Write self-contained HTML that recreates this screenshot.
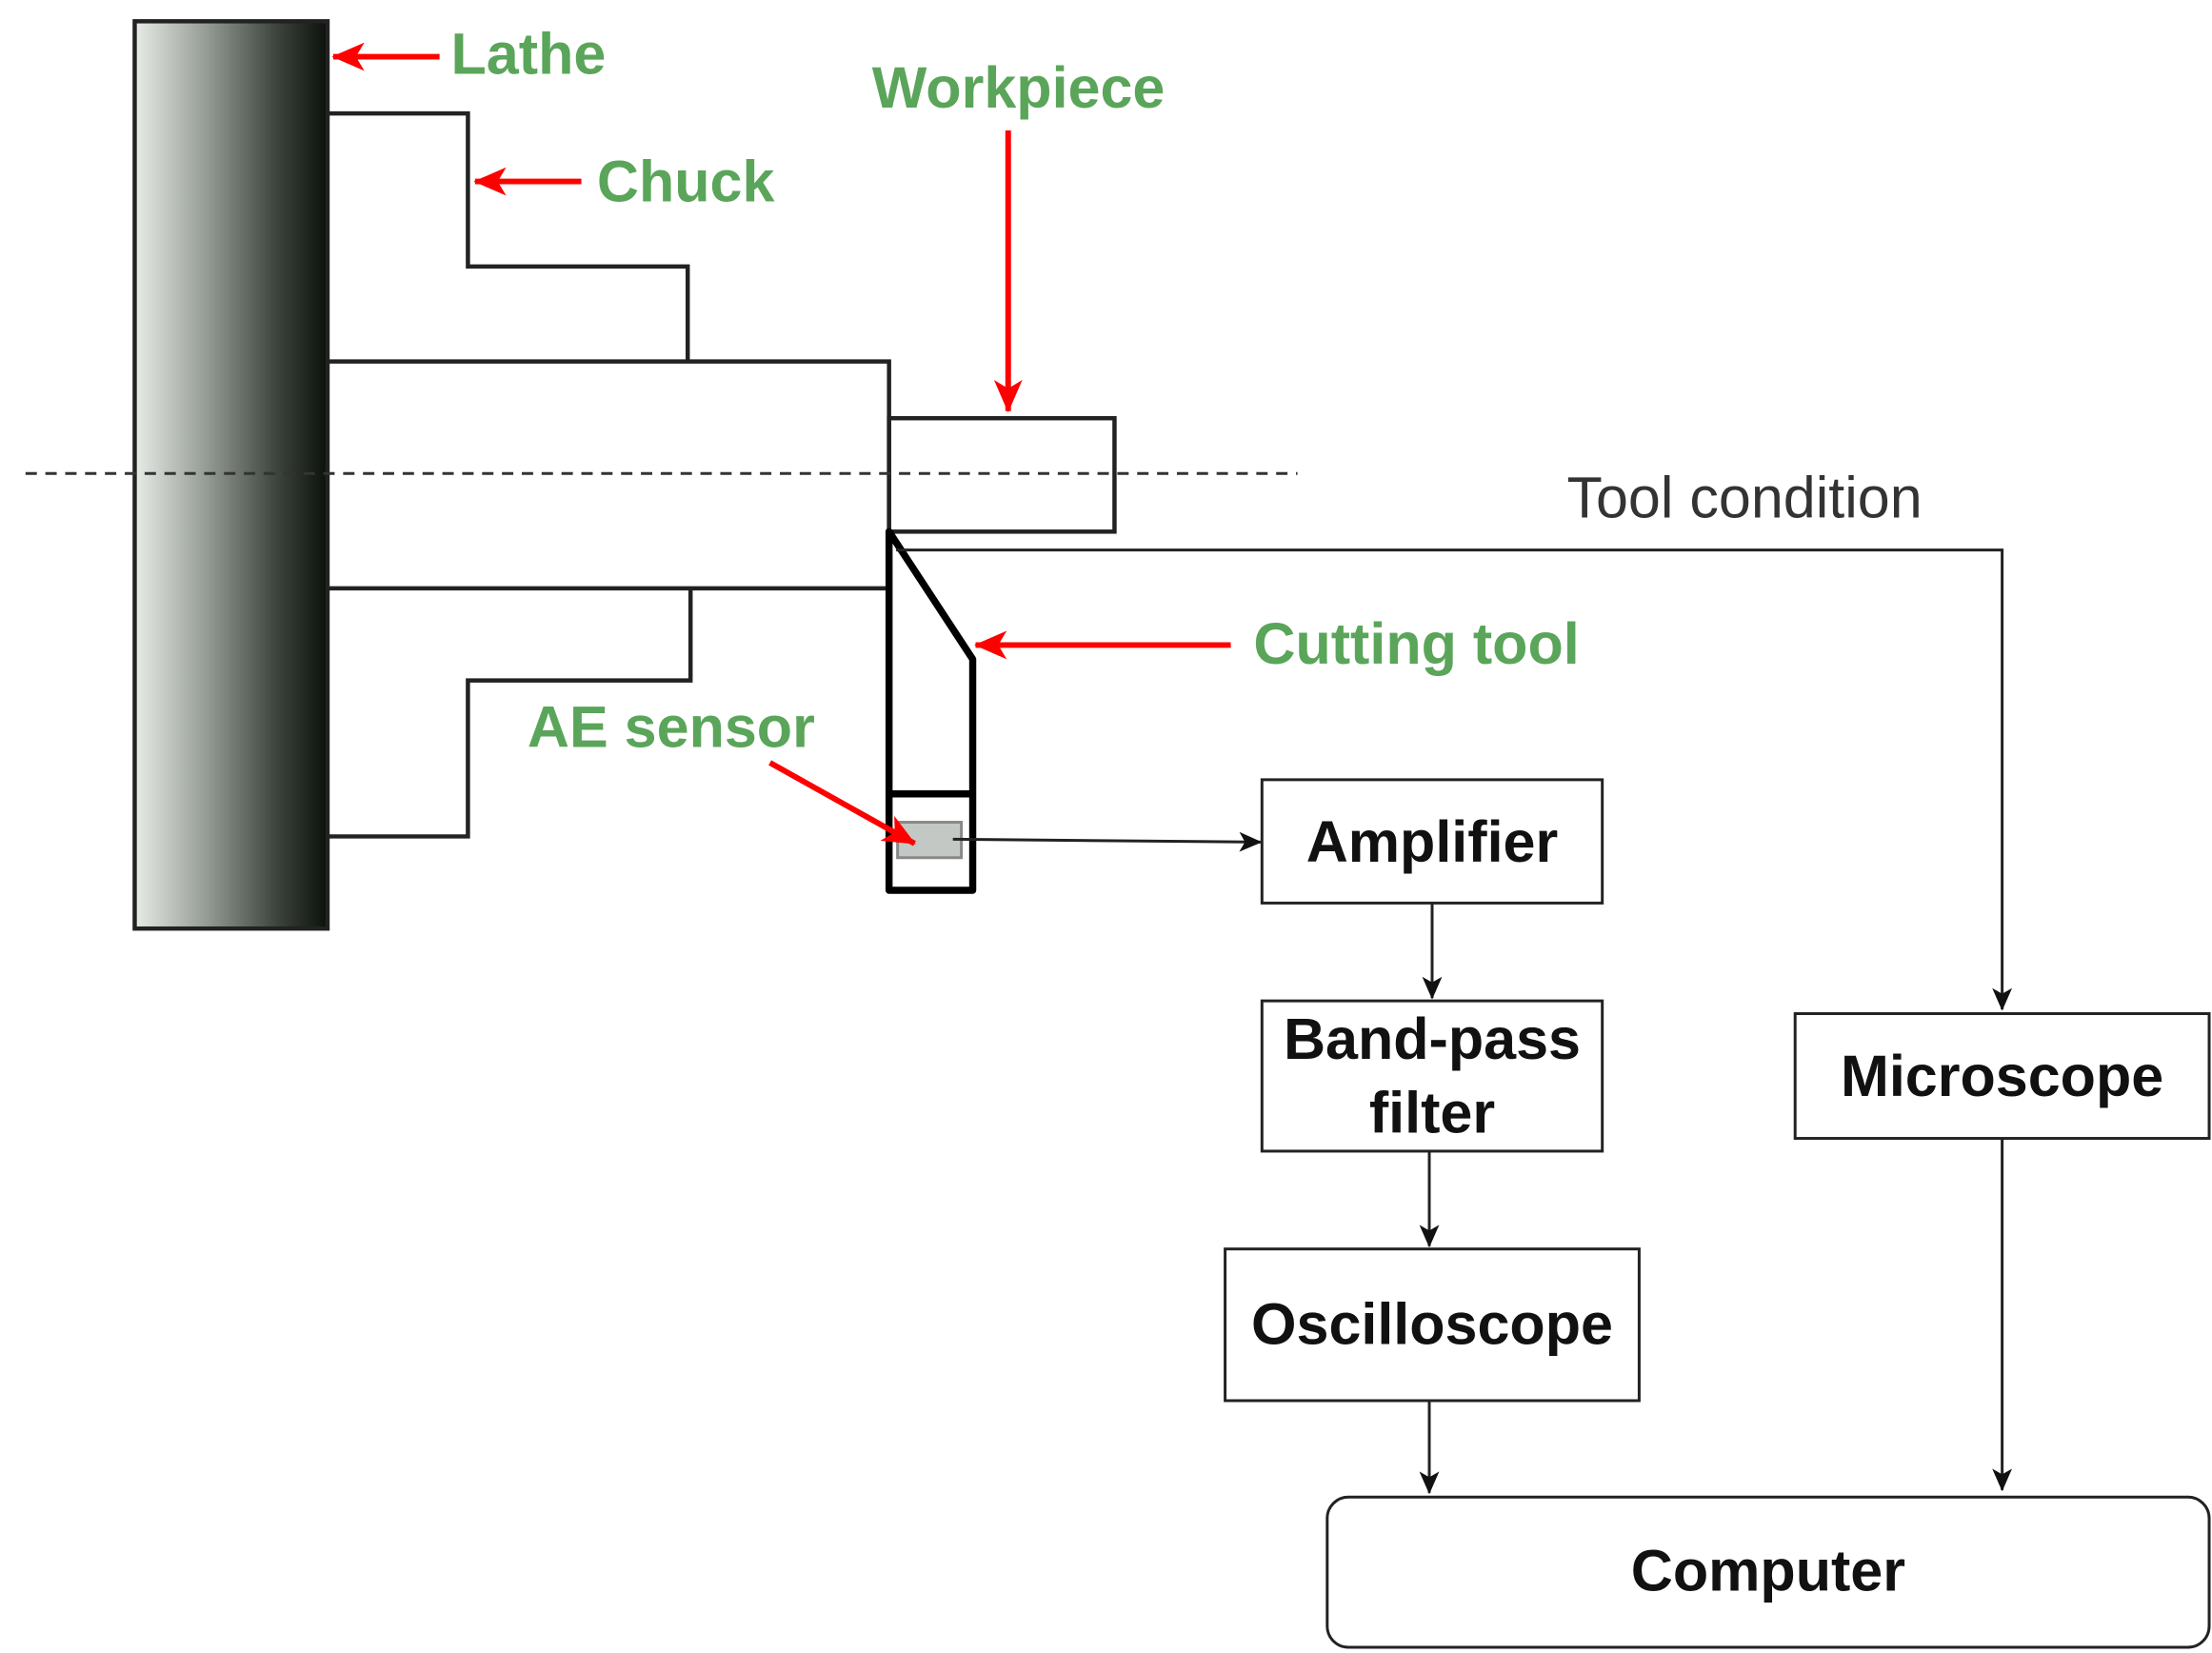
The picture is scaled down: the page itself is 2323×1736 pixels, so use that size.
<!DOCTYPE html>
<html><head><meta charset="utf-8"><style>html,body{margin:0;padding:0;background:#fff}svg{display:block}</style></head>
<body>
<svg width="2323" height="1736" viewBox="0 0 1560 1166" preserveAspectRatio="none" xmlns="http://www.w3.org/2000/svg" font-family="Liberation Sans, sans-serif">
<defs>
<linearGradient id="g" x1="0" x2="1" y1="0" y2="0">
<stop offset="0" stop-color="#e8ece8"/><stop offset="0.35" stop-color="#9aa09a"/><stop offset="0.75" stop-color="#3a403a"/><stop offset="1" stop-color="#0c110c"/></linearGradient>
<marker id="ab" markerWidth="16" markerHeight="16" refX="15" refY="8" orient="auto" markerUnits="userSpaceOnUse"><path d="M0,1 L16,8 L0,15 L4,8 Z" fill="#111"/></marker>
<marker id="ar" markerWidth="24" markerHeight="24" refX="22" refY="12" orient="auto" markerUnits="userSpaceOnUse"><path d="M0,2 L23,12 L0,22 L6,12 Z" fill="#f00"/></marker>
</defs>
<rect x="95" y="15" width="136" height="640" fill="url(#g)" stroke="#222" stroke-width="3"/>
<g fill="none" stroke="#222" stroke-width="3">
<polyline points="231,80 330,80 330,188 485,188 485,255"/>
<polyline points="231,590 330,590 330,480 487,480 487,415"/>
<polyline points="231,255 627,255 627,415 231,415"/>
<rect x="627" y="295" width="159" height="80"/>
</g>
<line x1="18" y1="334" x2="915" y2="334" stroke="#333" stroke-width="2" stroke-dasharray="8,6"/>
<g fill="none" stroke="#000" stroke-width="5" stroke-linejoin="round">
<polygon points="627,375 686,465 686,628 627,628"/>
<line x1="627" y1="560" x2="686" y2="560"/>
</g>
<rect x="633" y="580" width="45" height="25" fill="#c4c8c4" stroke="#888" stroke-width="2"/>
<g stroke="#222" stroke-width="2" fill="none" marker-end="url(#ab)">
<line x1="672" y1="592" x2="889" y2="594"/>
<polyline points="632,388 1412,388 1412,712"/>
<line x1="1010" y1="637" x2="1010" y2="704"/>
<line x1="1008" y1="812" x2="1008" y2="879"/>
<line x1="1008" y1="988" x2="1008" y2="1053"/>
<line x1="1412" y1="803" x2="1412" y2="1051"/>
</g>
<g fill="#fff" stroke="#222" stroke-width="2">
<rect x="890" y="550" width="240" height="87"/>
<rect x="890" y="706" width="240" height="106"/>
<rect x="864" y="881" width="292" height="107"/>
<rect x="1266" y="715" width="292" height="88"/>
<rect x="936" y="1056" width="622" height="106" rx="15"/>
</g>
<g font-weight="bold" font-size="41" fill="#111" text-anchor="middle">
<text x="1010" y="608">Amplifier</text>
<text x="1010" y="747">Band-pass</text>
<text x="1010" y="799">filter</text>
<text x="1010" y="948">Oscilloscope</text>
<text x="1412" y="773">Microscope</text>
<text x="1247" y="1122">Computer</text>
</g>
<text x="1105" y="365" font-size="41" fill="#333">Tool condition</text>
<g stroke="#f00" stroke-width="4" marker-end="url(#ar)">
<line x1="310" y1="40" x2="235" y2="40"/>
<line x1="410" y1="128" x2="335" y2="128"/>
<line x1="711" y1="92" x2="711" y2="290"/>
<line x1="868" y1="455" x2="688" y2="455"/>
<line x1="543" y1="538" x2="645" y2="595"/>
</g>
<g font-weight="bold" font-size="41" fill="#5aa55a">
<text x="318" y="52">Lathe</text>
<text x="421" y="142">Chuck</text>
<text x="615" y="76">Workpiece</text>
<text x="884" y="468">Cutting tool</text>
<text x="372" y="527">AE sensor</text>
</g>
</svg>
</body></html>
